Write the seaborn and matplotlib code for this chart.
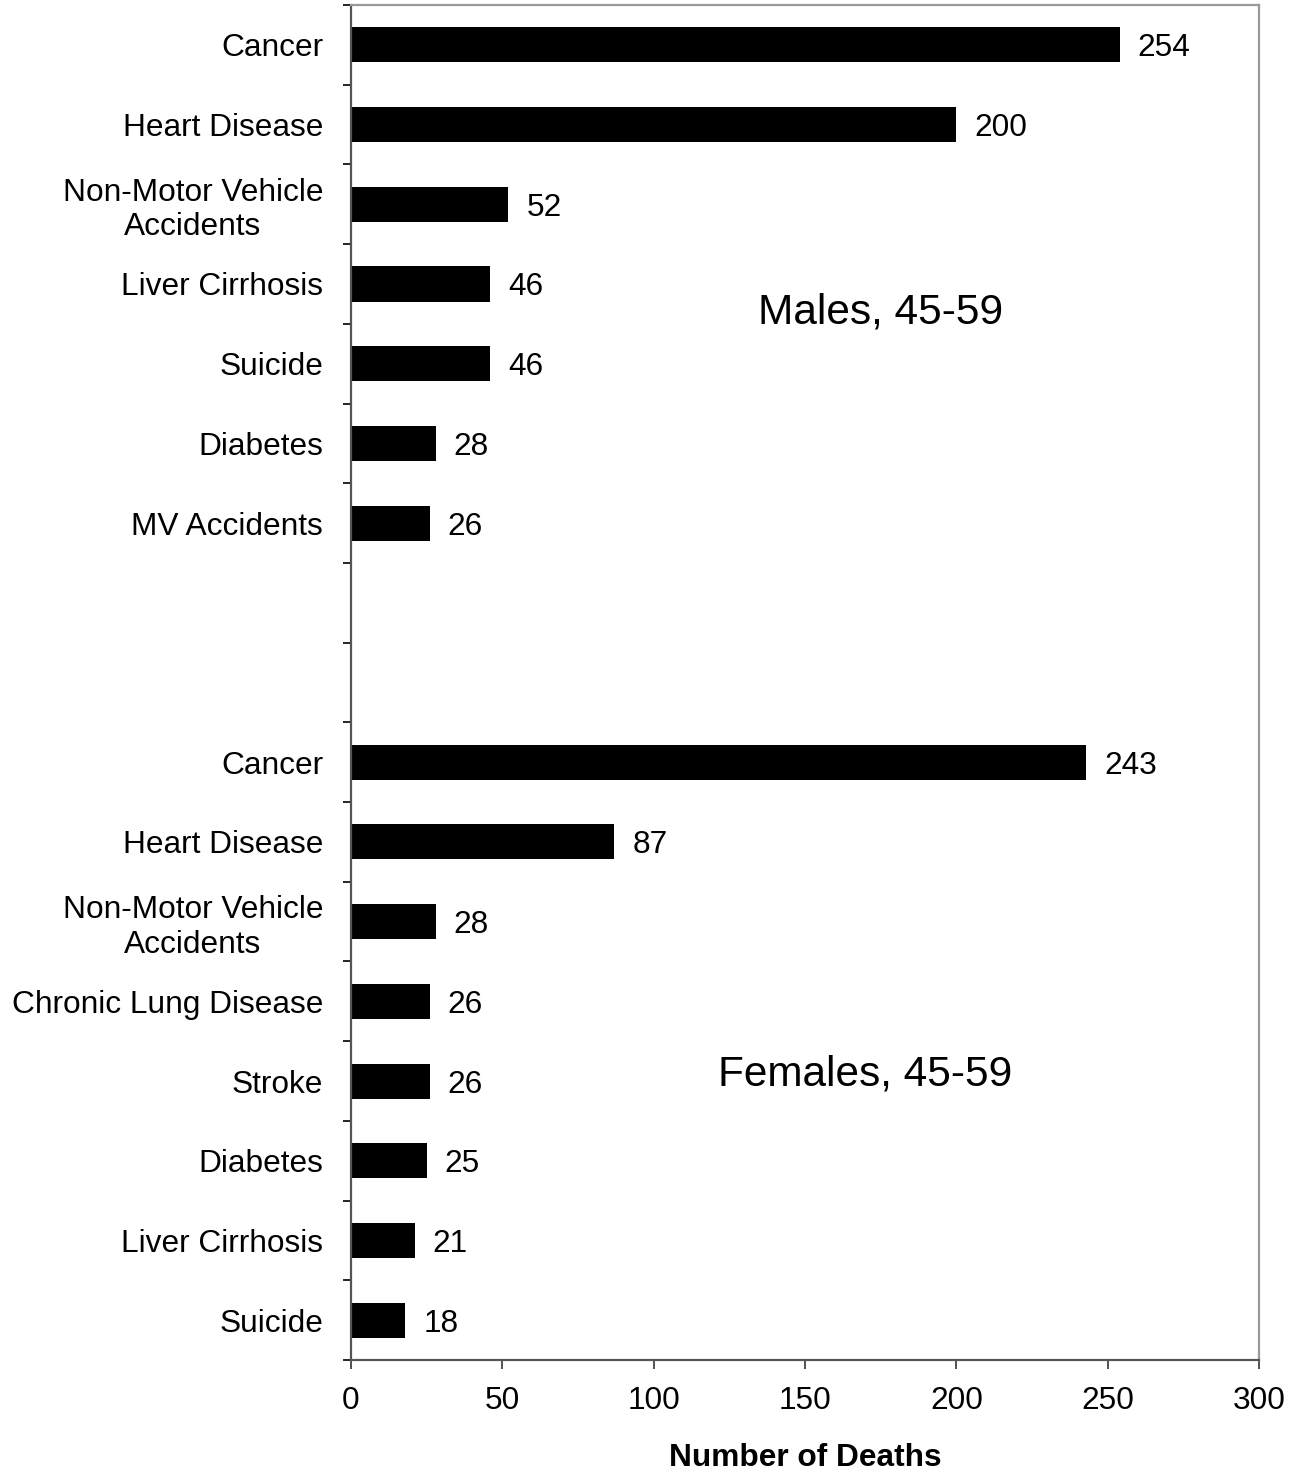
import matplotlib
matplotlib.use("Agg")
import matplotlib.pyplot as plt
import seaborn as sns
import pandas as pd
import numpy as np

# Leading causes of death, ages 45-59
male_causes = ["Cancer", "Heart Disease", "Non-Motor Vehicle\nAccidents",
               "Liver Cirrhosis", "Suicide", "Diabetes", "MV Accidents"]
male_deaths = [254, 200, 52, 46, 46, 28, 26]

female_causes = ["Cancer", "Heart Disease", "Non-Motor Vehicle\nAccidents",
                 "Chronic Lung Disease", "Stroke", "Diabetes",
                 "Liver Cirrhosis", "Suicide"]
female_deaths = [243, 87, 28, 26, 26, 25, 21, 18]

n_gap = 2  # empty slots between the two groups
x_ticks = [0, 50, 100, 150, 200, 250, 300]

# one row per slot on the category axis (gaps have no bar)
slots = ([f"M{i}" for i in range(len(male_causes))]
         + [f"G{i}" for i in range(n_gap)]
         + [f"F{i}" for i in range(len(female_causes))])
labels = male_causes + [""] * n_gap + female_causes
values = male_deaths + [np.nan] * n_gap + female_deaths
df = pd.DataFrame({"slot": slots, "label": labels, "deaths": values})

sns.set_theme(style="white")
plt.rcParams["font.family"] = ["Liberation Sans", "DejaVu Sans"]
plt.rcParams["text.color"] = "black"
plt.rcParams["axes.labelcolor"] = "black"
plt.rcParams["xtick.color"] = "black"
plt.rcParams["ytick.color"] = "black"

fs = 22.8

fig = plt.figure(figsize=(12.99, 14.73), dpi=100)
ax = fig.add_axes([0.2702, 0.0767, 0.6990, 0.9199])

sns.barplot(data=df, x="deaths", y="slot", order=slots, orient="h",
            color="black", width=0.44, saturation=1, linewidth=0, ax=ax)

for c in ax.containers:
    texts = ax.bar_label(c, fmt="%d", padding=13, fontsize=fs, color="black")
    for t in texts:
        t.set_verticalalignment("center_baseline")

ax.set_xlim(0, 300)
ax.set_ylim(len(slots) - 0.5, -0.5)
ax.set_xticks(x_ticks)
ax.set_xticklabels([str(t) for t in x_ticks], fontsize=fs)

ax.set_yticks(range(len(slots)))
ax.set_yticklabels(labels, fontsize=fs, multialignment="center")
ax.set_yticks(np.arange(-0.5, len(slots), 1), minor=True)
ax.tick_params(axis="y", which="major", length=0, pad=20)
ax.tick_params(axis="y", which="minor", left=True, length=6, width=1.2,
               color="black", direction="out")
ax.tick_params(axis="x", which="major", bottom=True, length=6.5, width=1.2,
               color="#333333", direction="out", pad=12)

ax.set_ylabel("")
ax.set_xlabel("Number of Deaths", fontsize=fs, fontweight="bold", labelpad=20)

for side in ["left", "bottom"]:
    ax.spines[side].set_color("#555555")
    ax.spines[side].set_linewidth(1.6)
for side in ["top", "right"]:
    ax.spines[side].set_visible(True)
    ax.spines[side].set_color("#999999")
    ax.spines[side].set_linewidth(1.6)

ax.text(175, 3.36, "Males, 45-59", fontsize=30.5, ha="center", va="center")
ax.text(170, 12.92, "Females, 45-59", fontsize=30.5, ha="center", va="center")

fig.savefig("out.png", dpi=100, facecolor="white")
